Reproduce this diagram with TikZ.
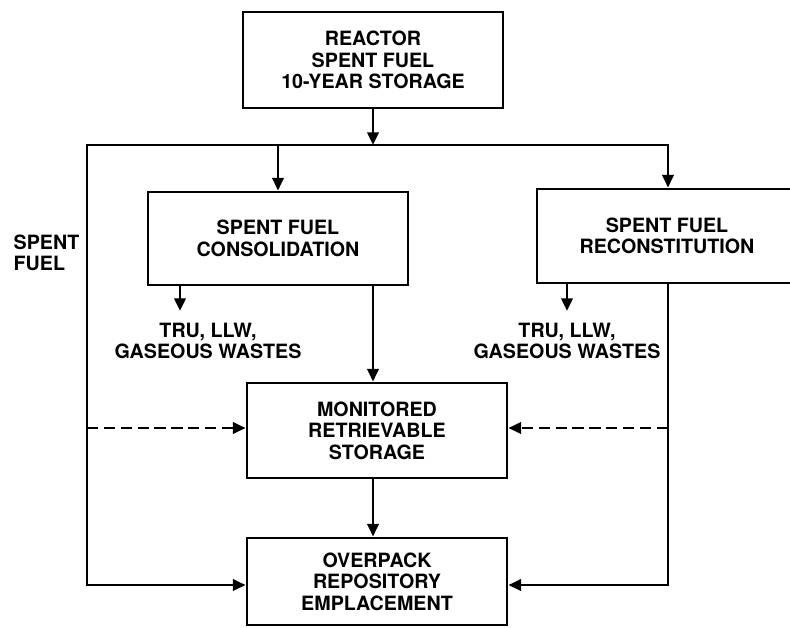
\documentclass[tikz,border=0pt]{standalone}
\usepackage{fontspec}
\setmainfont{TeX Gyre Heros}
\usepackage{tikz}
\usetikzlibrary{positioning,arrows.meta}

\tikzset{
    blocco/.style={draw, line width=2pt, minimum width=260*0.025cm, align=center, inner sep=0pt},
    etichetta/.style={align=center, inner sep=1pt},
    linea/.style={line width=2pt, line cap=rect},
    flusso/.style={line width=2pt, -{Triangle[length=9pt,width=8pt]}},
    tratteggio/.style={flusso, dash pattern=on 8pt off 4pt},
}

\begin{document}
\begin{tikzpicture}[x=0.025cm, y=-0.025cm, font=\fontsize{14}{15.3}\selectfont\bfseries]
        \useasboundingbox (0,0) rectangle (790,627);
        % NODI
        \node [blocco, minimum height=96*0.025cm] (reactor) at (373,60) {REACTOR\\SPENT FUEL\\10-YEAR STORAGE};
        \node [blocco, minimum height=93*0.025cm] (consol) at (278,238.5) {SPENT FUEL\\CONSOLIDATION};
        \node [blocco, minimum height=94*0.025cm] (recon) at (667,236) {SPENT FUEL\\RECONSTITUTION};
        \node [blocco, minimum height=95*0.025cm] (mrs) at (377,430.5) {MONITORED\\RETRIEVABLE\\STORAGE};
        \node [blocco, minimum height=87*0.025cm] (overpack) at (377,581.5) {OVERPACK\\REPOSITORY\\EMPLACEMENT};
        \node [etichetta, align=left, anchor=west] (fuel) at (12,253) {SPENT\\FUEL};
        \node [etichetta] (waste1) at (208,341) {TRU, LLW,\\GASEOUS WASTES};
        \node [etichetta] (waste2) at (567,341) {TRU, LLW,\\GASEOUS WASTES};
        % PUNTI DI PASSAGGIO
        \coordinate (busL) at (87,145);
        \coordinate (busR) at (668,145);
        \coordinate (downL) at (87,585);
        \coordinate (downR) at (668,585);
        \coordinate (dashL) at (87,428);
        \coordinate (dashR) at (668,428);
        \coordinate (w1) at (180,311);
        \coordinate (w2) at (567,311);
        \coordinate (mid) at (373,0);

        % FRECCE
        \draw [flusso] (reactor.south) -- (reactor.south |- busL);
        \draw [linea] (downL) -- (busL) -- (busR);
        \draw [flusso] (consol.north |- busL) -- (consol.north);
        \draw [flusso] (busR) -- (recon.north -| busR);
        \draw [flusso] (downL) -- (overpack.west |- downL);
        \draw [flusso] (w1 |- consol.south) -- (w1);
        \draw [flusso] (w2 |- recon.south) -- (w2);
        \draw [flusso] (mid |- consol.south) -- (mid |- mrs.north);
        \draw [linea] (busR |- recon.south) -- (downR);
        \draw [flusso] (downR) -- (overpack.east |- downR);
        \draw [tratteggio] (dashL) -- (mrs.west |- dashL);
        \draw [tratteggio] (dashR) -- (mrs.east |- dashR);
        \draw [flusso] (mid |- mrs.south) -- (mid |- overpack.north);
\end{tikzpicture}
\end{document}
